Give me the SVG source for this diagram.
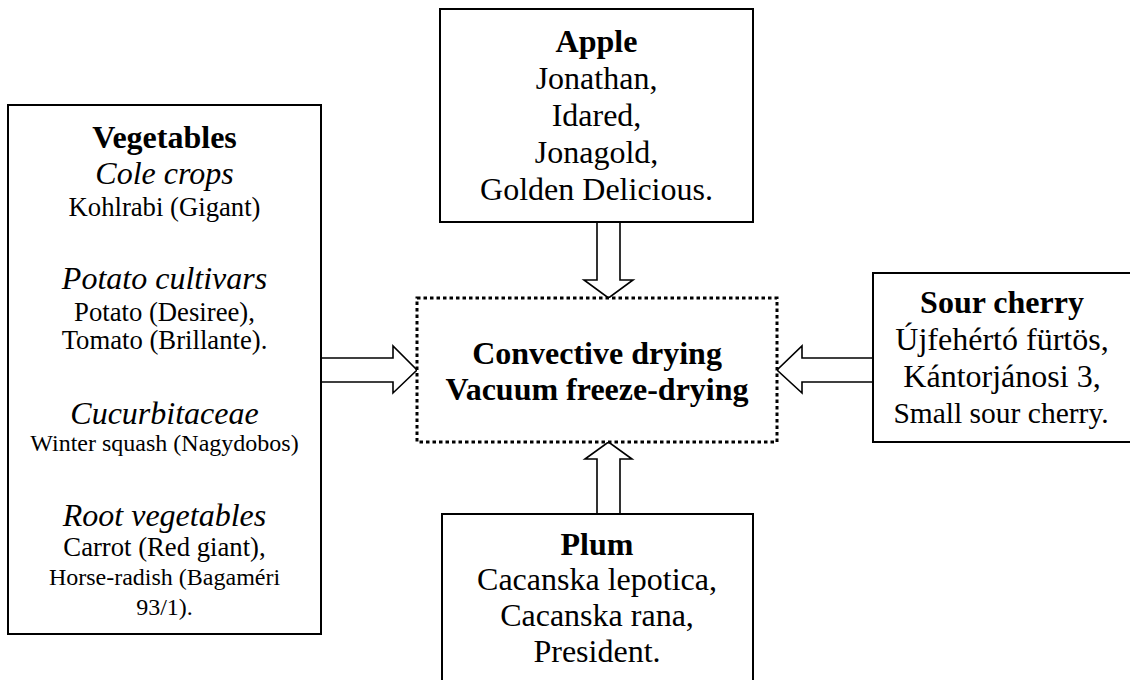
<svg xmlns="http://www.w3.org/2000/svg" width="1130" height="680" viewBox="0 0 1130 680">
<style>
.box{fill:#fff;stroke:#000;stroke-width:2}
.dot{fill:#fff;stroke:#000;stroke-width:3;stroke-dasharray:3.5 3}
.arr{fill:#fff;stroke:#000;stroke-width:1.6;stroke-linejoin:miter}
text{font-family:"Liberation Serif","Times New Roman",serif;fill:#000;text-anchor:middle}
.h{font-weight:bold;font-size:32px}
.i{font-style:italic;font-size:32px}
.r{font-size:32px}
.m{font-size:26.7px}
.s{font-size:24px}
</style>
<rect width="1130" height="680" fill="#fff"/>
<g id="connectors">
<polygon class="arr" points="597,222 620,222 620,280 633,280 608.5,298 584,280 597,280"/>
<polygon class="arr" points="597,514 620,514 620,459 632,459 608.5,442 585,459 597,459"/>
<polygon class="arr" points="321,358 393,358 393,346 417,370 393,393 393,382 321,382"/>
<polygon class="arr" points="873,358 802,358 802,346 777,370 802,393 802,382 873,382"/>
</g>
<g id="vegetables">
<rect class="box" x="8" y="105" width="313" height="529"/>
<text class="h" x="164.5" y="148">Vegetables</text>
<text class="i" x="164.5" y="184">Cole crops</text>
<text class="m" x="164.5" y="216">Kohlrabi (Gigant)</text>
<text class="i" x="164.5" y="289">Potato cultivars</text>
<text class="m" x="164.5" y="321">Potato (Desiree),</text>
<text class="m" x="164.5" y="349">Tomato (Brillante).</text>
<text class="i" x="164.5" y="424">Cucurbitaceae</text>
<text class="s" x="164.5" y="451">Winter squash (Nagydobos)</text>
<text class="i" x="164.5" y="526">Root vegetables</text>
<text class="m" x="164.5" y="556">Carrot (Red giant),</text>
<text class="s" x="164.5" y="585">Horse-radish (Bagaméri</text>
<text class="s" x="164.5" y="615">93/1).</text>
</g>
<g id="apple">
<rect class="box" x="440" y="9" width="313" height="213"/>
<text class="h" x="596.5" y="52">Apple</text>
<text class="r" x="596.5" y="89">Jonathan,</text>
<text class="r" x="596.5" y="126">Idared,</text>
<text class="r" x="596.5" y="163">Jonagold,</text>
<text class="r" x="596.5" y="200">Golden Delicious.</text>
</g>
<g id="drying">
<rect class="dot" x="417" y="298" width="360" height="144"/>
<text class="h" x="597" y="364">Convective drying</text>
<text class="h" x="597" y="400">Vacuum freeze-drying</text>
</g>
<g id="sourcherry">
<rect class="box" x="873" y="273" width="260" height="169"/>
<text class="h" x="1002" y="313">Sour cherry</text>
<text class="r" x="1002" y="350">Újfehértó fürtös,</text>
<text class="r" x="1002" y="387">Kántorjánosi 3,</text>
<text class="r" x="1001" y="423" style="font-size:29.5px">Small sour cherry.</text>
</g>
<g id="plum">
<rect class="box" x="442" y="514" width="311" height="180"/>
<text class="h" x="597" y="555">Plum</text>
<text class="r" x="597" y="590">Cacanska lepotica,</text>
<text class="r" x="597" y="626">Cacanska rana,</text>
<text class="r" x="597" y="662">President.</text>
</g>
</svg>
